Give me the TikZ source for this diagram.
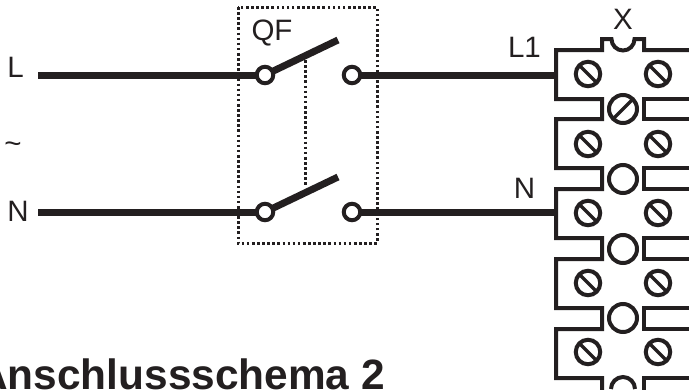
\documentclass[tikz,border=0pt]{standalone}
\usepackage{fontspec}
\setmainfont{Liberation Sans}
\definecolor{ink}{HTML}{231F20}
\tikzset{
  wire/.style={draw=ink,line width=7pt},
  blade/.style={draw=ink,line width=7pt},
  dotted box/.style={draw=ink,line width=3pt,dash pattern=on 2.6pt off 2.5pt},
  contact/.style={circle,draw=ink,fill=white,line width=4pt,minimum size=16.5pt,inner sep=0pt,outer sep=0pt},
  screw/.style={circle,draw=ink,line width=4pt,minimum size=24.5pt,inner sep=0pt,outer sep=0pt},
  link/.style={circle,draw=ink,line width=4pt,minimum size=28pt,inner sep=0pt,outer sep=0pt},
  blockline/.style={draw=ink,line width=4pt,line join=miter},
  slot/.style={draw=ink,line width=3.5pt},
  lbl/.style={text=ink,font=\fontsize{29.5}{29.5}\selectfont,inner sep=0pt},
  title/.style={text=ink,font=\fontsize{42.4}{42.4}\selectfont\bfseries,inner sep=0pt,anchor=base west}
}
\begin{document}
\begin{tikzpicture}[x=1pt,y=-1pt]
\useasboundingbox (0,0) rectangle (689,389);
\clip (0,0) rectangle (689,389);
% terminal block outline
\draw[blockline] (689,50) -- (644,50) -- (644,39) -- (634.5,39) arc[start angle=0,end angle=180,radius=11.5] -- (602,39) -- (602,50) -- (556,50) -- (556,99) -- (602,99) -- (602,119) -- (556,119) -- (556,168) -- (602,168) -- (602,189) -- (556,189) -- (556,238) -- (602,238) -- (602,259) -- (556,259) -- (556,308) -- (602,308) -- (602,329) -- (556,329) -- (556,378) -- (602,378) -- (602,391);
\draw[blockline] (689,99) -- (644,99) -- (644,119) -- (689,119);
\draw[blockline] (689,168) -- (644,168) -- (644,189) -- (689,189);
\draw[blockline] (689,238) -- (644,238) -- (644,259) -- (689,259);
\draw[blockline] (689,308) -- (644,308) -- (644,329) -- (689,329);
\draw[blockline] (689,378) -- (644,378) -- (644,391);
\draw[blockline] (611,389) arc[start angle=180,end angle=360,radius=12];
\node[link] (lk1) at (623,109) {};
\node[link] (lk2) at (623,179) {};
\node[link] (lk3) at (623,249) {};
\node[link] (lk4) at (623,318) {};
\draw[slot] (lk1.45) -- (lk1.225);
\foreach \r/\y in {1/74,2/144,3/213,4/283,5/352}{
  \node[screw] (sl\r) at (588,\y) {};
  \node[screw] (sr\r) at (658,\y) {};
  \draw[slot] (sl\r.135) -- (sl\r.315);
  \draw[slot] (sr\r.135) -- (sr\r.315);
}
\coordinate (t1) at (556,75);
\coordinate (t2) at (556,212);
\coordinate (lstart) at (38,75);
\coordinate (nstart) at (38,212);
\coordinate (up1) at (338,40);
\coordinate (up2) at (338,177);
% QF box and coupling
\draw[dotted box] (238,7) rectangle (377,243);
\coordinate (ct) at (305,60);
\coordinate (cb) at (305,185);
\draw[dotted box] (ct) -- (cb);
% contacts
\node[contact] (a1) at (265,75) {};
\node[contact] (b1) at (352,75) {};
\node[contact] (a2) at (265,212) {};
\node[contact] (b2) at (352,212) {};
\draw[wire] (lstart) -- (a1);
\draw[wire] (b1) -- (t1);
\draw[wire] (nstart) -- (a2);
\draw[wire] (b2) -- (t2);
\draw[blade] (a1) -- (up1);
\draw[blade] (a2) -- (up2);
% labels
\node[lbl] (tL) at (15.5,67.5) {L};
\node[lbl] (tT) at (13,148) {\char`\~};
\node[lbl] (tN) at (18,211) {N};
\node[lbl] (tQ) at (272,33) {QF};
\node[lbl] (tL1) at (524.5,47) {L1};
\node[lbl] (tN2) at (524.5,188.5) {N};
\node[lbl] (tX) at (623,19) {X};
\node[title] (tt) at (-23,389) {Anschlussschema 2};
\end{tikzpicture}
\end{document}
